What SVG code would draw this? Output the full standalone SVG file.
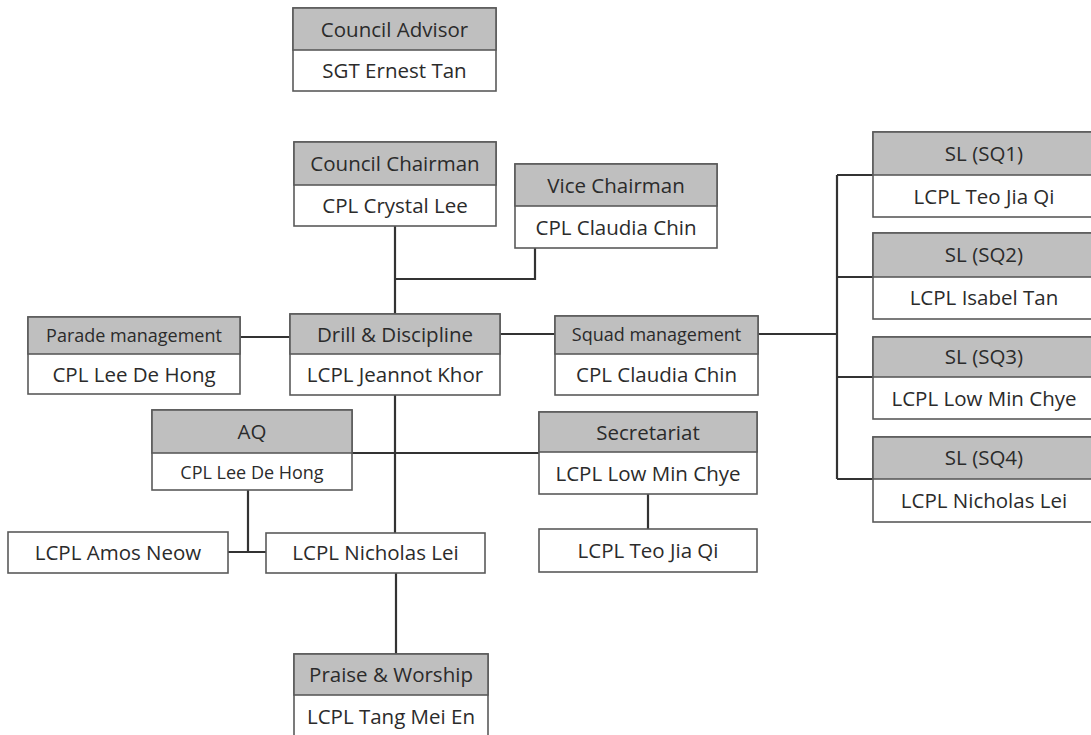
<svg xmlns="http://www.w3.org/2000/svg" width="1091" height="735" viewBox="0 0 1091 735">
<style>
.box{fill:#fff;stroke:#5a5a5a;stroke-width:1.6}
.hdr{fill:#bfbfbf;stroke:#5a5a5a;stroke-width:1.6}
.t{font-family:"Open Sans","Noto Sans",sans-serif;font-size:20.5px;fill:#2b2b2b;text-anchor:middle}
.s{font-size:18px}
.conn{fill:none;stroke:#333;stroke-width:2.2}
</style>
<rect width="1091" height="735" fill="#fff"/>
<g id="connectors">
<path class="conn" d="M395 226V314M395 279H535V248M240 337H290M500 334H555M758 334H837M837 175V479M837 175H873M837 277H873M837 377H873M837 479H873M395 395V533M352 453H539M248 490V552M228 552H266M648 494V529M396 573V654"/>
</g>
<g id="advisor"><rect class="box" x="293" y="8" width="203" height="83"/><rect class="hdr" x="293" y="8" width="203" height="42"/><text class="t" x="394.5" y="37">Council Advisor</text><text class="t" x="394.5" y="78">SGT Ernest Tan</text></g>
<g id="chairman"><rect class="box" x="294" y="142" width="202" height="84"/><rect class="hdr" x="294" y="142" width="202" height="43"/><text class="t" x="395" y="171">Council Chairman</text><text class="t" x="395" y="213">CPL Crystal Lee</text></g>
<g id="vice"><rect class="box" x="515" y="164" width="202" height="84"/><rect class="hdr" x="515" y="164" width="202" height="42"/><text class="t" x="616" y="193">Vice Chairman</text><text class="t" x="616" y="235">CPL Claudia Chin</text></g>
<g id="parade"><rect class="box" x="28" y="317" width="212" height="77"/><rect class="hdr" x="28" y="317" width="212" height="37"/><text class="t s" x="134" y="342">Parade management</text><text class="t" x="134" y="382">CPL Lee De Hong</text></g>
<g id="drill"><rect class="box" x="290" y="314" width="210" height="81"/><rect class="hdr" x="290" y="314" width="210" height="40"/><text class="t" x="395" y="342">Drill &amp; Discipline</text><text class="t" x="395" y="382">LCPL Jeannot Khor</text></g>
<g id="squad"><rect class="box" x="555" y="316" width="203" height="79"/><rect class="hdr" x="555" y="316" width="203" height="38"/><text class="t s" x="656.5" y="341">Squad management</text><text class="t" x="656.5" y="382">CPL Claudia Chin</text></g>
<g id="sq1"><rect class="box" x="873" y="132" width="222" height="85"/><rect class="hdr" x="873" y="132" width="222" height="43"/><text class="t" x="984" y="161">SL (SQ1)</text><text class="t" x="984" y="204">LCPL Teo Jia Qi</text></g>
<g id="sq2"><rect class="box" x="873" y="233" width="222" height="86"/><rect class="hdr" x="873" y="233" width="222" height="44"/><text class="t" x="984" y="262">SL (SQ2)</text><text class="t" x="984" y="305">LCPL Isabel Tan</text></g>
<g id="sq3"><rect class="box" x="873" y="337" width="222" height="82"/><rect class="hdr" x="873" y="337" width="222" height="40"/><text class="t" x="984" y="364">SL (SQ3)</text><text class="t" x="984" y="406">LCPL Low Min Chye</text></g>
<g id="sq4"><rect class="box" x="873" y="437" width="222" height="85"/><rect class="hdr" x="873" y="437" width="222" height="42"/><text class="t" x="984" y="465">SL (SQ4)</text><text class="t" x="984" y="508">LCPL Nicholas Lei</text></g>
<g id="aq"><rect class="box" x="152" y="410" width="200" height="80"/><rect class="hdr" x="152" y="410" width="200" height="43"/><text class="t" x="252" y="439">AQ</text><text class="t s" x="252" y="479">CPL Lee De Hong</text></g>
<g id="secretariat"><rect class="box" x="539" y="412" width="218" height="82"/><rect class="hdr" x="539" y="412" width="218" height="40"/><text class="t" x="648" y="440">Secretariat</text><text class="t" x="648" y="481">LCPL Low Min Chye</text></g>
<g id="amos"><rect class="box" x="8" y="532" width="220" height="41"/><text class="t" x="118" y="560">LCPL Amos Neow</text></g>
<g id="nicholas"><rect class="box" x="266" y="533" width="219" height="40"/><text class="t" x="375.5" y="560">LCPL Nicholas Lei</text></g>
<g id="teo"><rect class="box" x="539" y="529" width="218" height="43"/><text class="t" x="648" y="558">LCPL Teo Jia Qi</text></g>
<g id="praise"><rect class="box" x="294" y="654" width="194" height="90"/><rect class="hdr" x="294" y="654" width="194" height="41"/><text class="t" x="391" y="682">Praise &amp; Worship</text><text class="t" x="391" y="724">LCPL Tang Mei En</text></g>
</svg>
